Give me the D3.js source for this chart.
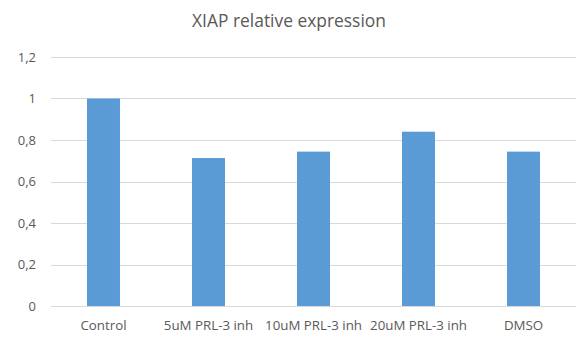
<!DOCTYPE html>
<html>
<head>
<meta charset="utf-8">
<script src="https://cdn.jsdelivr.net/npm/d3@7"></script>
<style>
  html, body { margin: 0; padding: 0; background: #fff; }
  svg { display: block; font-family: "Open Sans", "Noto Sans", sans-serif; }
</style>
</head>
<body>
<svg id="chart" width="579" height="339"></svg>
<script>
const categories = ["Control", "5uM PRL-3 inh", "10uM PRL-3 inh", "20uM PRL-3 inh", "DMSO"];
const values = [1.0, 0.713, 0.744, 0.84, 0.744];
const yTicks = [0, 0.2, 0.4, 0.6, 0.8, 1, 1.2];
const titleText = "XIAP relative expression";

(function () {
const svg = d3.select("#chart");
const mLeft = 51, mRight = 576, mTop = 57, mBottom = 306;

const x = d3.scaleBand().domain(categories).range([mLeft, mRight])
  .paddingInner(0.686).paddingOuter(0.343);
const y = d3.scaleLinear().domain([0, 1.2]).range([mBottom, mTop]);

const fmt = d => String(d).replace(".", ",");

// gridlines
svg.append("g").selectAll("line").data(yTicks).join("line")
  .attr("x1", mLeft).attr("x2", mRight)
  .attr("y1", d => Math.round(y(d)) + 0.5).attr("y2", d => Math.round(y(d)) + 0.5)
  .attr("stroke", "#d9d9d9").attr("stroke-width", 1);

// y axis labels
const yAxis = d3.axisLeft(y).tickValues(yTicks).tickFormat(fmt).tickSize(0).tickPadding(0);
const gy = svg.append("g").attr("transform", `translate(36,0)`).call(yAxis);
gy.select(".domain").remove();
gy.selectAll("text").attr("fill", "#595959").style("font-size", "13px")
  .style("font-family", "'Open Sans', 'Noto Sans', sans-serif");

// bars
svg.append("g").selectAll("rect").data(values).join("rect")
  .attr("x", (d, i) => x(categories[i]))
  .attr("width", x.bandwidth())
  .attr("y", d => y(d))
  .attr("height", d => y(0) - y(d))
  .attr("fill", "#5b9bd5");

// x axis labels
const xAxis = d3.axisBottom(x).tickSize(0).tickPadding(15);
const gx = svg.append("g").attr("transform", `translate(0,${mBottom})`).call(xAxis);
gx.select(".domain").remove();
gx.selectAll("text").attr("fill", "#595959").style("font-size", "13.3px")
  .style("font-family", "'Open Sans', 'Noto Sans', sans-serif");

// title
svg.append("text").attr("x", 289).attr("y", 27)
  .attr("text-anchor", "middle").attr("fill", "#595959")
  .style("font-size", "17.4px").text(titleText);
})();
</script>
</body>
</html>
